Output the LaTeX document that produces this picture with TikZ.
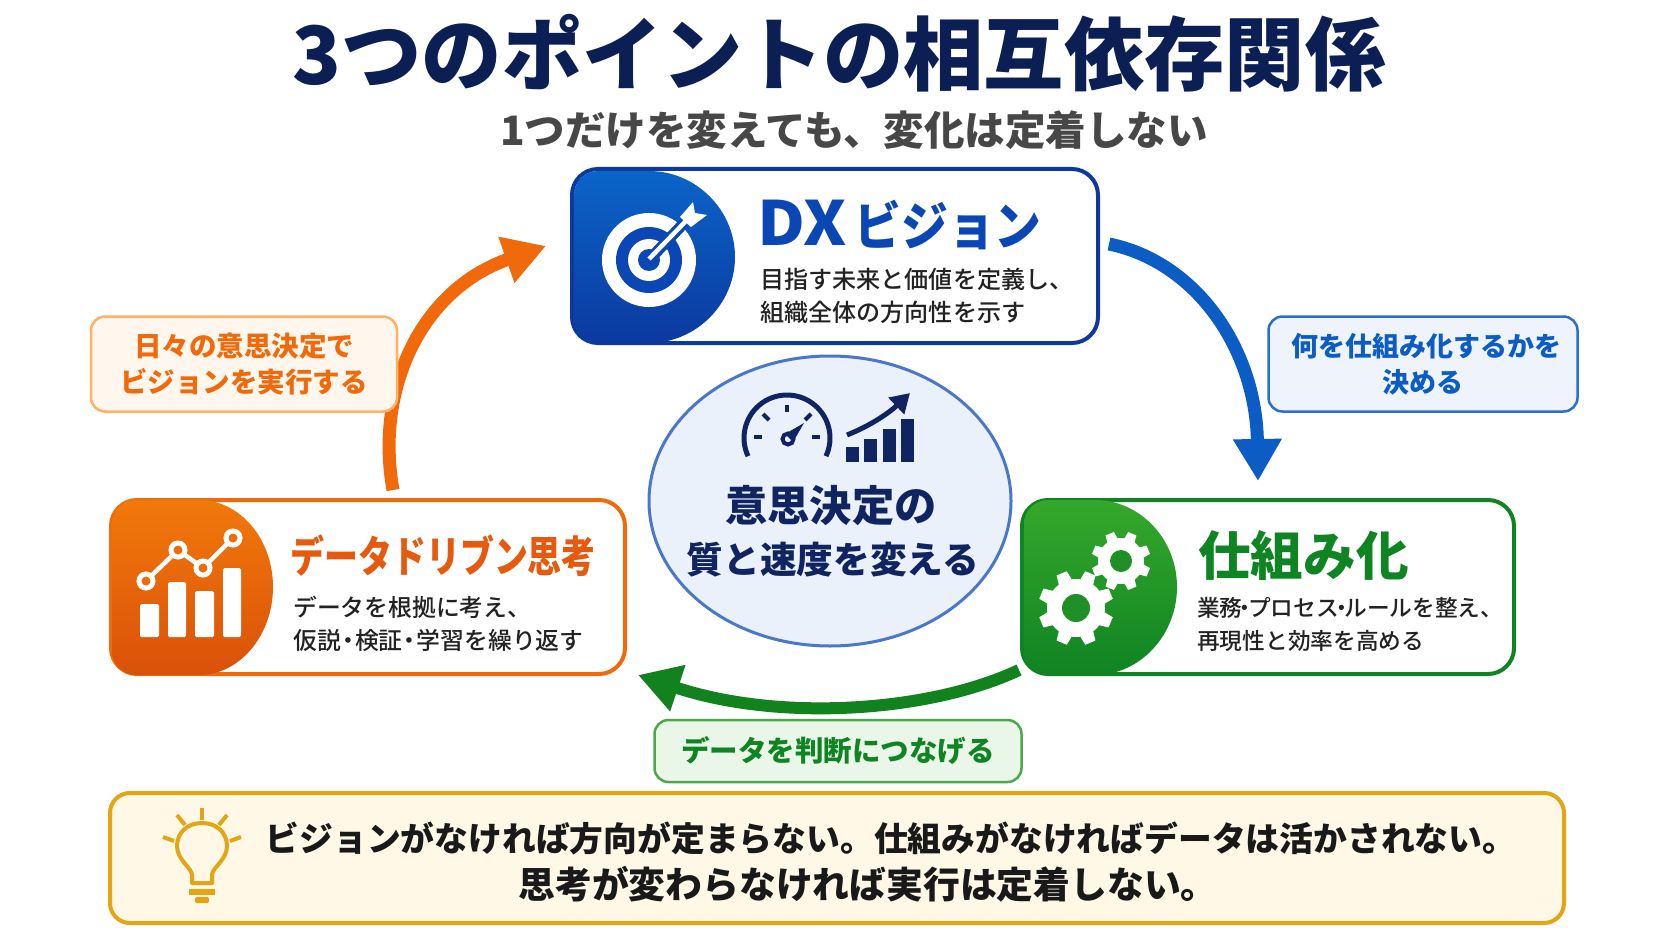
\documentclass[tikz,border=0pt]{standalone}
\usepackage{fontspec}
\setmainfont{Noto Sans CJK JP}
\newfontfamily\jpblack{Noto Sans CJK JP Black}
\newfontfamily\jpmed{Noto Sans CJK JP Medium}
\usetikzlibrary{arrows.meta,calc,shapes.geometric}
\newcommand{\fs}[2]{\fontsize{#1}{#2}\selectfont}
\newcommand{\nd}{\hspace{-.2em}・\hspace{-.2em}}
\newcommand{\ndn}{\hspace{-.38em}・\hspace{-.38em}}
\definecolor{navy}{HTML}{0F2460}
\definecolor{titlenavy}{HTML}{0B1F55}
\definecolor{bluemain}{HTML}{0A47B4}
\definecolor{blueline}{HTML}{0B39A0}
\definecolor{bluearrow}{HTML}{0B5CC5}
\definecolor{orangemain}{HTML}{F06A0C}
\definecolor{orangetext}{HTML}{E65A10}
\definecolor{greenmain}{HTML}{0F8422}
\definecolor{greentop}{HTML}{35A82B}
\definecolor{greenhole}{HTML}{1F9026}
\definecolor{greenarrow}{HTML}{12821F}
\definecolor{gold}{HTML}{E3A514}
\definecolor{ink}{HTML}{222222}
\definecolor{corefill}{HTML}{EAF1FB}
\definecolor{coreline}{HTML}{4A78C8}
\tikzset{
  card/.style={draw,line width=4pt,rounded corners=26pt,fill=white,minimum width=#1,minimum height=174pt,inner sep=0pt},
  cardtitle/.style={anchor=west,inner sep=0pt,font=\bfseries},
  carddesc/.style={anchor=west,inner sep=0pt,align=left,text=ink,font=\jpmed\fs{24.1}{33}},
  callout/.style={draw,line width=2.5pt,rounded corners=14pt,inner sep=0pt,align=center,font=\bfseries\fs{27.5}{36}},
  flow/.style={line width=13pt,-{Triangle[length=42pt,width=46pt]}},
  iconnavy/.style={draw=navy,line width=5pt},
}
\begin{document}
\begin{tikzpicture}[x=1pt,y=-1pt]
\useasboundingbox (0,0) rectangle (1672,941);
\fill[white] (0,0) rectangle (1672,941);

% title
\node[inner sep=0pt,text=titlenavy,font=\jpblack\fs{80.3}{82}] (title) at (839,53) {3つのポイントの相互依存関係};
\node[inner sep=0pt,text=black!72,font=\bfseries\fs{40.5}{42}] (subtitle) at (854,130) {1つだけを変えても、変化は定着しない};

% centre
\node[draw=coreline,line width=3pt,fill=corefill,ellipse,inner sep=0pt,minimum width=362pt,minimum height=290pt] (core) at (830,501) {};
% gauge
\draw[iconnavy,line cap=butt] plot[domain=-205:25,samples=50] ({787+43*cos(\x)},{438+43*sin(\x)});
\draw[iconnavy,line width=4pt] (754,437) -- (762,437);
\draw[iconnavy,line width=4pt] (763,414) -- (769,420);
\draw[iconnavy,line width=4pt] (787,405) -- (787,412);
\draw[iconnavy,line width=4pt] (811,414) -- (805,420);
\draw[iconnavy,line width=4pt] (820,437) -- (812,437);
\draw[iconnavy,line width=4pt] (788,439) circle (5.5);
\fill[navy] (785,434) -- (804,423) -- (793,442) -- cycle;
% bars
\fill[navy] (846,447) rectangle (859,462);
\fill[navy] (864,439) rectangle (877,462);
\fill[navy] (883,429) rectangle (896,462);
\fill[navy] (901,419) rectangle (914,462);
\coordinate (riseA) at (847,435);
\coordinate (riseB) at (910,393);
\draw[navy,line width=5pt,-{Triangle[length=19pt,width=22pt]}] (riseA) .. controls (872,425) and (890,412) .. (riseB);
\node[inner sep=0pt,text=navy,font=\bfseries\fs{42.3}{44}] (coreA) at (831,506) {意思決定の};
\node[inner sep=0pt,text=navy,font=\bfseries\fs{36.7}{40}] (coreB) at (833,560) {質と速度を変える};

% DX card
\node[card=526pt,draw=blueline] (dx) at (835,256) {};
\shade[top color=bluearrow!95!cyan,bottom color=blueline] (649,171) [rounded corners=24pt] -- (574,171) -- (574,343) [sharp corners] -- (649,343) .. controls (696,343) and (735,304) .. (735,257) .. controls (735,210) and (696,171) .. (649,171) -- cycle;
\fill[white] (649,260) circle (47);
\fill[bluemain] (649,260) circle (33);
\fill[white] (649,260) circle (21);
\fill[bluemain] (649,260) circle (11);
\draw[bluemain,line width=11pt] (649,260) -- (684,223);
\draw[white,line width=4.5pt] (649,259) -- (686,221);
\fill[white] (680,217) -- (693,202) -- (695,213) -- (707,215) -- (691,227) -- cycle;
\node[cardtitle,text=bluemain] (dxtitle) at (757,225) {\scalebox{1.08}[1]{\bfseries\fs{61}{62}DX}\hspace{8pt}\scalebox{.9}[1]{\bfseries\fs{52}{62}ビジョン}};
\node[carddesc] (dxdesc) at (760,296) {目指す未来と価値を定義し、\\組織全体の方向性を示す};

% Data card
\node[card=514pt,draw=orangemain] (data) at (368,587) {};
\shade[top color=orangemain!90!yellow,bottom color=orangemain!85!red!90!black] (199,500) [rounded corners=24pt] -- (112,500) -- (112,675) [sharp corners] -- (199,675) .. controls (240,675) and (273,635) .. (273,587) .. controls (273,539) and (240,500) .. (199,500) -- cycle;
\foreach \l/\t/\r in {140/604/159,168/582/186,195/591/214,223/568/241}
  \fill[white,rounded corners=1.5pt] (\l,\t) rectangle (\r,637);
\draw[white,line width=4.5pt] (146,581) -- (178,550) -- (203,568) -- (233,538);
\foreach \x/\y in {146/581,178/550,203/568,233/538}
  \draw[white,line width=5pt,fill=orangemain] (\x,\y) circle (7);
\node[cardtitle,text=orangetext] (datatitle) at (290,556) {\scalebox{.79}[1]{\bfseries\fs{43}{46}データドリブン思考}};
\node[carddesc,font=\jpmed\fs{23.8}{33}] (datadesc) at (293,624) {データを根拠に考え、\\仮説\nd 検証\nd 学習を繰り返す};

% Process card
\node[card=492pt,draw=greenmain] (proc) at (1268,587) {};
\shade[top color=greentop,bottom color=greenmain] (1095,500) [rounded corners=24pt] -- (1024,500) -- (1024,675) [sharp corners] -- (1095,675) .. controls (1140,675) and (1177,635) .. (1177,587) .. controls (1177,539) and (1140,500) .. (1095,500) -- cycle;
\foreach \a in {0,45,...,315}{
  \fill[white,shift={(1076,608)},rotate=\a+22.5] (-7,-28) -- (-5.5,-37.5) -- (5.5,-37.5) -- (7,-28) -- cycle;
  \fill[white,shift={(1121,561)},rotate=\a+22.5] (-5.5,-22) -- (-4.5,-29.5) -- (4.5,-29.5) -- (5.5,-22) -- cycle;
}
\fill[white] (1076,608) circle (29);
\fill[white] (1121,561) circle (23);
\fill[greenhole] (1076,608) circle (14);
\fill[greenhole] (1121,561) circle (11);
\node[cardtitle,text=greenmain,font=\bfseries\fs{52.6}{54}] (proctitle) at (1198,556) {仕組み化};
\node[carddesc,font=\jpmed\fs{22.7}{33}] (procdesc) at (1197,624) {業務\ndn プロセス\ndn ルールを整え、\\再現性と効率を高める};

% arrows
\coordinate (fromDx) at (1109,244);
\coordinate (toProc) at (1258,481);
\draw[flow,bluearrow] (fromDx) .. controls (1197,262) and (1256,350) .. (toProc);
\coordinate (fromProc) at (1019,670);
\coordinate (toData) at (638,675);
\draw[flow,greenarrow,line width=12pt] (fromProc) .. controls (930,712) and (780,722) .. (toData);
\coordinate (fromData) at (393,490);
\coordinate (toDx) at (546,246);
\draw[flow,orangemain] (fromData) .. controls (375,390) and (420,290) .. (toDx);

% callouts
\node[callout,draw=orange!60!white,fill=orange!7!white,text=orangemain,minimum width=306pt,minimum height=95pt] (noteA) at (244,364) {日々の意思決定で\\ビジョンを実行する};
\node[callout,draw={rgb,255:red,42;green,111;blue,208},fill={rgb,255:red,238;green,243;blue,252},text=bluearrow,minimum width=309pt,minimum height=95pt,font=\bfseries\fs{27}{36}] (noteB) at (1423,364) {\hspace{6pt}何を仕組み化するかを\\決める};
\node[callout,draw={rgb,255:red,74;green,168;blue,74},fill={rgb,255:red,234;green,246;blue,232},text=greenmain,minimum width=367pt,minimum height=62pt,font=\bfseries\fs{28.5}{32}] (noteC) at (838,751) {データを判断につなげる};

% bottom
\node[draw=gold,line width=4pt,fill={rgb,255:red,255;green,248;blue,230},rounded corners=20pt,minimum width=1454pt,minimum height=130pt,inner sep=0pt] (bottom) at (837,858) {};
\draw[gold,line width=4pt,line join=round] (192,883) -- (192,875) .. controls (192,868) and (177,860) .. (177,846) .. controls (177,832) and (188,823) .. (202,823) .. controls (216,823) and (227,832) .. (227,846) .. controls (227,860) and (212,868) .. (212,875) -- (212,883) -- cycle;
\fill[gold] (189,889) rectangle (215,895);
\fill[gold,rounded corners=1.5pt] (195,897) rectangle (209,903);
\draw[gold,line width=4pt] (202,808) -- (202,820);
\draw[gold,line width=4pt] (177,815) -- (185,825);
\draw[gold,line width=4pt] (227,815) -- (219,825);
\draw[gold,line width=4pt] (163,837) -- (174,841);
\draw[gold,line width=4pt] (241,837) -- (230,841);
\node[inner sep=0pt,text=black!90,font=\bfseries\fs{33.8}{36}] (msgA) at (891,838) {ビジョンがなければ方向が定まらない。仕組みがなければデータは活かされない。};
\node[inner sep=0pt,text=black!90,font=\bfseries\fs{36.8}{38}] (msgB) at (868,884) {思考が変わらなければ実行は定着しない。};
\end{tikzpicture}
\end{document}
